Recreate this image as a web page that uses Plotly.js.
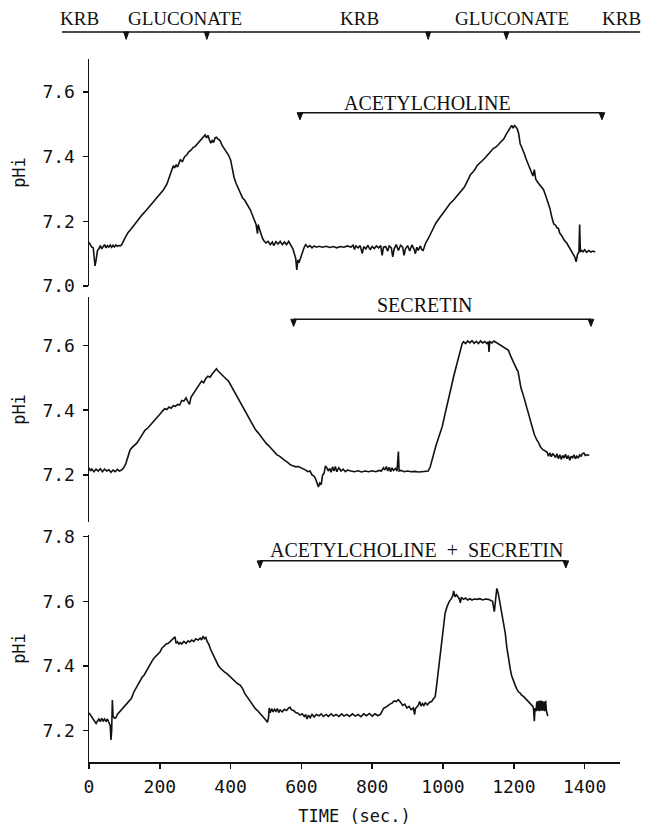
<!DOCTYPE html>
<html>
<head>
<meta charset="utf-8">
<script src="https://cdn.plot.ly/plotly-3.0.1.min.js"></script>
<style>html,body{margin:0;padding:0;background:#fff;}</style>
</head>
<body>
<div id="chart" style="width:649px;height:829px;"></div>
<script>
// ---------- DATA ----------
// Panel 1: Acetylcholine
const t1 = [0,4,8,12,15,17,20,24,28,32,36,40,44,48,52,56,60,64,68,72,76,80,84,88,92,100,110,120,130,140,150,160,170,180,190,200,210,220,228,234,238,242,246,250,254,258,264,270,276,282,288,294,300,306,312,318,324,328,332,336,340,344,348,352,356,360,364,370,376,382,388,394,400,405,410,416,422,428,434,440,446,450,456,462,468,472,476,478,482,486,490,494,500,506,512,518,522,528,534,540,546,552,558,564,568,572,576,580,584,587,590,594,598,604,608,612,618,624,630,636,642,650,660,670,680,690,700,710,720,730,740,746,750,754,760,766,772,776,782,788,794,800,806,812,818,824,828,832,838,844,848,854,858,862,868,874,880,886,890,894,900,906,912,918,922,926,930,936,940,944,950,960,970,980,990,1000,1010,1020,1030,1040,1050,1060,1066,1072,1078,1084,1090,1096,1102,1110,1118,1126,1134,1142,1150,1158,1166,1172,1178,1184,1190,1194,1198,1202,1206,1210,1214,1218,1222,1226,1230,1234,1238,1242,1246,1250,1254,1258,1262,1268,1276,1284,1290,1296,1302,1308,1313,1318,1322,1326,1330,1336,1342,1350,1358,1366,1372,1376,1380,1384,1386,1388,1392,1396,1400,1406,1412,1418,1424,1430];
const ph1 = [7.135,7.128,7.12,7.118,7.09,7.062,7.08,7.11,7.115,7.125,7.115,7.12,7.128,7.118,7.125,7.12,7.127,7.12,7.126,7.121,7.127,7.123,7.125,7.124,7.127,7.145,7.165,7.178,7.192,7.208,7.22,7.232,7.245,7.26,7.272,7.284,7.297,7.315,7.34,7.36,7.372,7.365,7.375,7.368,7.38,7.39,7.385,7.4,7.405,7.415,7.42,7.428,7.432,7.44,7.446,7.455,7.462,7.467,7.458,7.466,7.452,7.442,7.45,7.444,7.458,7.46,7.455,7.45,7.435,7.425,7.415,7.405,7.39,7.36,7.335,7.316,7.3,7.285,7.272,7.265,7.255,7.245,7.235,7.218,7.2,7.19,7.162,7.19,7.175,7.16,7.148,7.14,7.133,7.138,7.128,7.136,7.125,7.137,7.13,7.138,7.128,7.136,7.128,7.138,7.13,7.12,7.115,7.1,7.085,7.05,7.08,7.075,7.09,7.105,7.12,7.128,7.12,7.125,7.118,7.124,7.12,7.123,7.12,7.123,7.119,7.122,7.118,7.122,7.12,7.124,7.12,7.126,7.113,7.124,7.118,7.125,7.1,7.122,7.115,7.126,7.112,7.122,7.116,7.124,7.118,7.125,7.095,7.12,7.122,7.108,7.124,7.118,7.09,7.115,7.128,7.11,7.126,7.12,7.095,7.115,7.125,7.108,7.127,7.115,7.1,7.12,7.11,7.124,7.112,7.11,7.13,7.15,7.175,7.195,7.21,7.225,7.24,7.255,7.266,7.278,7.29,7.305,7.318,7.33,7.345,7.352,7.36,7.372,7.378,7.385,7.395,7.405,7.415,7.425,7.43,7.44,7.448,7.455,7.468,7.48,7.492,7.497,7.488,7.496,7.492,7.485,7.47,7.44,7.43,7.415,7.408,7.395,7.385,7.372,7.365,7.35,7.34,7.36,7.33,7.32,7.31,7.298,7.28,7.26,7.24,7.21,7.192,7.188,7.18,7.178,7.163,7.155,7.142,7.132,7.118,7.103,7.09,7.075,7.098,7.105,7.19,7.105,7.11,7.106,7.112,7.104,7.11,7.105,7.108,7.105];

// Panel 2: Secretin
const t2 = [0,4,8,14,20,26,32,38,44,50,56,62,68,74,80,86,92,98,104,110,116,122,128,135,142,150,158,166,174,182,190,196,202,208,214,220,226,232,238,244,250,256,262,268,274,280,284,288,294,300,306,312,318,324,330,336,342,348,354,360,364,370,378,386,394,400,406,412,418,424,430,436,442,448,455,462,470,478,486,493,500,508,516,524,531,538,546,554,562,568,576,584,592,600,606,612,618,624,630,636,640,644,648,652,656,660,664,668,672,676,680,684,688,692,696,700,706,712,718,724,730,740,750,760,770,780,790,800,810,820,826,832,836,840,844,848,852,856,860,866,870,874,876,882,890,900,910,920,930,940,950,958,964,972,980,986,992,998,1004,1011,1018,1024,1030,1036,1042,1048,1054,1058,1064,1070,1076,1082,1088,1094,1100,1106,1112,1118,1124,1128,1130,1132,1138,1144,1150,1156,1162,1168,1174,1180,1185,1190,1196,1202,1209,1212,1216,1220,1228,1234,1240,1246,1252,1258,1265,1270,1276,1282,1288,1294,1298,1302,1306,1310,1314,1318,1322,1326,1330,1334,1338,1342,1346,1350,1354,1358,1362,1366,1370,1374,1378,1382,1386,1390,1394,1398,1402,1408,1413];
const ph2 = [7.222,7.212,7.218,7.21,7.218,7.212,7.219,7.21,7.218,7.212,7.216,7.208,7.215,7.21,7.217,7.212,7.215,7.222,7.235,7.26,7.277,7.285,7.292,7.298,7.31,7.325,7.338,7.345,7.355,7.365,7.372,7.38,7.39,7.398,7.405,7.402,7.41,7.406,7.414,7.412,7.418,7.416,7.43,7.428,7.438,7.425,7.418,7.44,7.45,7.46,7.472,7.478,7.49,7.485,7.498,7.505,7.502,7.512,7.52,7.528,7.522,7.515,7.505,7.498,7.49,7.478,7.465,7.452,7.44,7.432,7.42,7.408,7.395,7.382,7.37,7.355,7.34,7.33,7.318,7.308,7.298,7.29,7.28,7.27,7.262,7.258,7.25,7.244,7.238,7.232,7.228,7.225,7.226,7.222,7.22,7.215,7.21,7.212,7.2,7.196,7.188,7.175,7.163,7.175,7.17,7.2,7.205,7.228,7.222,7.212,7.22,7.208,7.225,7.212,7.226,7.21,7.222,7.212,7.218,7.21,7.215,7.212,7.21,7.213,7.209,7.212,7.21,7.213,7.21,7.214,7.212,7.222,7.215,7.226,7.212,7.224,7.21,7.222,7.214,7.22,7.212,7.272,7.212,7.214,7.21,7.212,7.21,7.211,7.209,7.21,7.21,7.212,7.225,7.26,7.29,7.31,7.33,7.35,7.38,7.41,7.44,7.475,7.504,7.53,7.56,7.585,7.605,7.612,7.606,7.614,7.608,7.615,7.607,7.613,7.606,7.614,7.608,7.612,7.606,7.612,7.58,7.612,7.608,7.614,7.61,7.606,7.6,7.598,7.594,7.59,7.585,7.57,7.555,7.538,7.525,7.52,7.49,7.47,7.442,7.42,7.395,7.37,7.35,7.325,7.308,7.3,7.285,7.278,7.275,7.27,7.258,7.268,7.256,7.266,7.26,7.254,7.265,7.25,7.262,7.248,7.26,7.252,7.264,7.25,7.26,7.245,7.258,7.252,7.262,7.25,7.258,7.252,7.262,7.258,7.266,7.268,7.26,7.262,7.26];

// Panel 3: Acetylcholine + Secretin
const t3 = [0,4,8,12,16,20,24,28,32,36,40,44,48,52,56,60,62,64,66,68,72,76,80,84,88,94,100,106,112,116,120,126,132,138,144,150,156,162,168,172,178,184,190,196,201,206,212,218,224,229,234,238,243,246,250,254,258,262,268,274,280,285,290,296,302,308,314,318,322,326,330,334,338,344,350,356,361,366,372,378,384,389,396,404,412,420,427,434,440,448,455,462,470,476,483,490,496,500,504,507,509,512,516,520,524,528,532,536,540,546,552,558,564,568,572,578,584,590,596,602,608,612,616,620,625,630,636,642,650,656,662,670,676,684,690,698,706,714,720,728,736,744,752,760,768,776,784,792,800,808,816,823,828,832,838,844,850,856,862,868,874,880,886,892,898,904,910,916,920,922,926,930,934,938,942,946,950,956,962,968,974,978,982,987,992,996,1001,1006,1012,1018,1024,1028,1030,1034,1038,1042,1046,1049,1052,1058,1064,1070,1076,1082,1088,1096,1104,1112,1120,1128,1136,1140,1145,1148,1152,1156,1160,1166,1171,1176,1180,1185,1190,1194,1199,1204,1208,1213,1218,1222,1228,1232,1237,1242,1246,1250,1254,1256,1258,1260,1263,1265,1267,1270,1272,1275,1277,1280,1282,1285,1287,1290,1292,1296];
const ph3 = [7.255,7.248,7.24,7.232,7.228,7.222,7.23,7.236,7.228,7.238,7.23,7.236,7.228,7.236,7.226,7.215,7.171,7.2,7.295,7.245,7.238,7.24,7.25,7.255,7.26,7.268,7.275,7.282,7.29,7.295,7.3,7.318,7.33,7.342,7.352,7.365,7.372,7.385,7.395,7.403,7.415,7.425,7.432,7.44,7.444,7.455,7.462,7.468,7.47,7.475,7.48,7.483,7.49,7.47,7.475,7.468,7.472,7.468,7.476,7.47,7.478,7.474,7.48,7.476,7.484,7.48,7.486,7.48,7.492,7.484,7.488,7.475,7.468,7.45,7.435,7.42,7.408,7.4,7.392,7.385,7.38,7.377,7.37,7.36,7.352,7.345,7.341,7.33,7.315,7.302,7.29,7.278,7.268,7.262,7.254,7.245,7.238,7.232,7.226,7.24,7.27,7.255,7.268,7.258,7.266,7.26,7.268,7.256,7.264,7.258,7.266,7.262,7.27,7.272,7.264,7.262,7.256,7.254,7.248,7.252,7.244,7.25,7.236,7.248,7.24,7.25,7.242,7.25,7.246,7.252,7.244,7.25,7.244,7.252,7.245,7.25,7.244,7.252,7.245,7.25,7.244,7.252,7.245,7.25,7.243,7.252,7.246,7.253,7.245,7.252,7.246,7.25,7.26,7.269,7.272,7.278,7.282,7.285,7.292,7.29,7.296,7.288,7.278,7.282,7.27,7.275,7.265,7.27,7.25,7.268,7.272,7.278,7.29,7.276,7.284,7.278,7.286,7.28,7.288,7.29,7.3,7.305,7.34,7.388,7.44,7.48,7.52,7.563,7.585,7.6,7.609,7.618,7.632,7.614,7.62,7.612,7.608,7.595,7.612,7.606,7.61,7.604,7.608,7.604,7.607,7.606,7.608,7.604,7.607,7.606,7.603,7.6,7.568,7.6,7.64,7.625,7.6,7.573,7.54,7.501,7.46,7.419,7.39,7.37,7.352,7.34,7.33,7.32,7.316,7.31,7.305,7.3,7.295,7.29,7.285,7.28,7.275,7.265,7.229,7.27,7.26,7.29,7.262,7.292,7.26,7.293,7.262,7.292,7.262,7.29,7.26,7.292,7.262,7.245];

// Solution changes (top bar) and drug periods
const solutionLabels = ['KRB', 'GLUCONATE', 'KRB', 'GLUCONATE', 'KRB'];
const solutionChangeTimes = [105, 333, 958, 1179];
const drugNames = ['ACETYLCHOLINE', 'SECRETIN', 'ACETYLCHOLINE\u00a0\u00a0+\u00a0\u00a0SECRETIN'];
const drugStart = [596, 578, 483];
const drugEnd = [1449, 1418, 1347];

// ---------- LAYOUT ----------
const W = 649, H = 829;
const margin = {l: 89, r: 29, t: 59, b: 67};
const mono = 'DejaVu Sans Mono';
const tickFont = {family: mono, size: 18, color: '#111'};
const serif = {family: 'Liberation Serif', size: 19, color: '#111'};
const serifBig = {family: 'Liberation Serif', size: 20, color: '#111'};

const panelAxes = ['y3', 'y2', 'y'];          // top, middle, bottom
const panelTimes = [t1, t2, t3];
const panelValues = [ph1, ph2, ph3];

const traces = panelAxes.map((ax, i) => ({
  x: panelTimes[i], y: panelValues[i], xaxis: 'x', yaxis: ax,
  type: 'scatter', mode: 'lines',
  line: {color: '#111', width: 1.6, shape: 'linear'},
  hoverinfo: 'skip', showlegend: false
}));

function yAxis(domain, range) {
  return {
    domain: domain, range: range, anchor: 'x',
    showline: true, linecolor: '#111', linewidth: 1.5,
    ticks: 'outside', ticklen: 5, tickwidth: 1.5, tickcolor: '#111',
    tick0: 7.0, dtick: 0.2, tickformat: '.1f',
    tickfont: tickFont, ticklabelstandoff: 4,
    showgrid: false, zeroline: false,
    title: {text: 'pHi', font: {family: mono, size: 17, color: '#111'}, standoff: 12}
  };
}

// Placement of drug bars within each panel (pH units)
const drugBarLevel = [7.536, 7.681, 7.725];
const drugLabelLevel = [7.566, 7.725, 7.759];
const drugLabelTime = [955, 950, 924];
const triHalf = 8, triH = 0.022;

const shapes = [];
const annotations = [];

// top solution bar
const topLineY = 1.0384, topTriH = 0.0105;
shapes.push({type: 'line', xref: 'paper', yref: 'paper', x0: -0.051, x1: 1.038, y0: topLineY, y1: topLineY,
  line: {color: '#111', width: 1.5}});
solutionChangeTimes.forEach(tc => {
  shapes.push({type: 'path', xref: 'x', yref: 'paper',
    path: `M ${tc - 7},${topLineY} L ${tc + 7},${topLineY} L ${tc},${topLineY - topTriH} Z`,
    fillcolor: '#111', line: {color: '#111', width: 1}});
});
const solutionLabelX = [-0.017, 0.180, 0.5085, 0.7966, 1.0019];
solutionLabels.forEach((lab, i) => {
  annotations.push({text: lab, xref: 'paper', yref: 'paper', x: solutionLabelX[i], y: 1.0569,
    xanchor: 'center', yanchor: 'middle', showarrow: false, font: serif});
});

// drug bars
drugNames.forEach((name, i) => {
  const ax = panelAxes[i];
  const lvl = drugBarLevel[i];
  shapes.push({type: 'line', xref: 'x', yref: ax, x0: drugStart[i], x1: drugEnd[i], y0: lvl, y1: lvl,
    line: {color: '#111', width: 1.5}});
  [drugStart[i], drugEnd[i]].forEach(tc => {
    shapes.push({type: 'path', xref: 'x', yref: ax,
      path: `M ${tc - triHalf},${lvl} L ${tc + triHalf},${lvl} L ${tc},${lvl - triH} Z`,
      fillcolor: '#111', line: {color: '#111', width: 1}});
  });
  annotations.push({text: name, xref: 'x', yref: ax, x: drugLabelTime[i], y: drugLabelLevel[i],
    xanchor: 'center', yanchor: 'middle', showarrow: false, font: serifBig});
});

const layout = {
  width: W, height: H, margin: margin,
  paper_bgcolor: '#fff', plot_bgcolor: '#fff',
  showlegend: false,
  xaxis: {
    range: [0, 1500], anchor: 'y', domain: [0, 1],
    showline: true, linecolor: '#111', linewidth: 1.5,
    ticks: 'outside', ticklen: 5, tickwidth: 1.5, tickcolor: '#111',
    tickvals: [0, 200, 400, 600, 800, 1000, 1200, 1400],
    tickfont: tickFont, ticklabelstandoff: 3,
    showgrid: false, zeroline: false,
    title: {text: 'TIME (sec.)', font: {family: mono, size: 17, color: '#111'}, standoff: 14}
  },
  yaxis3: yAxis([0.6771, 1.0], [7.0, 7.702]),
  yaxis2: yAxis([0.3414, 0.6615], [7.0545, 7.750]),
  yaxis: yAxis([0.0, 0.3229], [7.103, 7.805]),
  shapes: shapes,
  annotations: annotations
};

Plotly.newPlot('chart', traces, layout, {displayModeBar: false, staticPlot: true});
</script>
</body>
</html>
